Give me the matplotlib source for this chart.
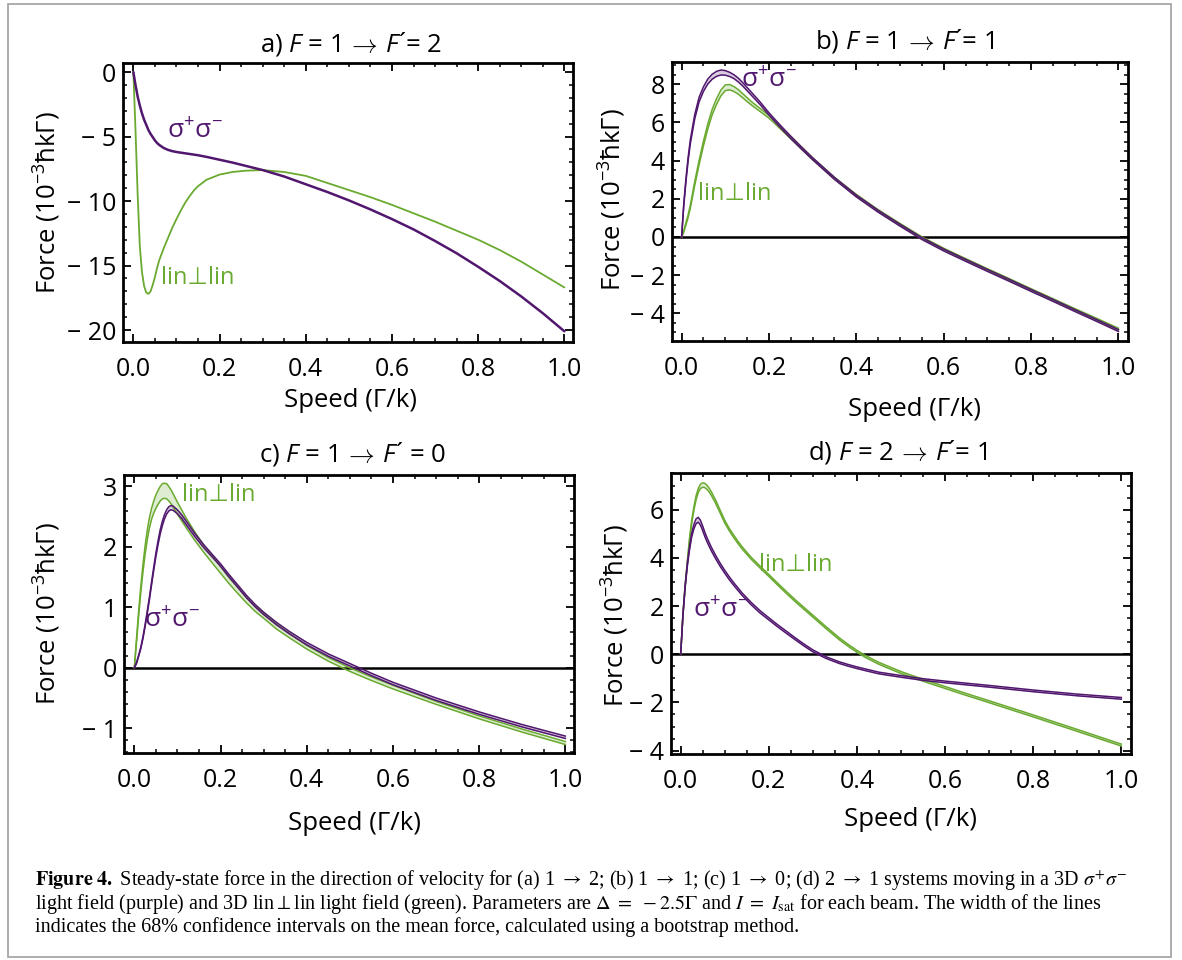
import matplotlib
matplotlib.use("Agg")
import matplotlib.pyplot as plt
import numpy as np
from matplotlib.ticker import MultipleLocator, FuncFormatter
from matplotlib.patches import Rectangle

plt.rcParams['font.family'] = ['Open Sans', 'DejaVu Sans']
plt.rcParams['mathtext.fontset'] = 'custom'
plt.rcParams['mathtext.rm'] = 'Open Sans'
plt.rcParams['mathtext.it'] = 'Open Sans:italic'
plt.rcParams['mathtext.bf'] = 'Open Sans:bold'

PURPLE = '#51176f'
GREEN = '#6aaa30'

# ---------------- data ----------------
titles = [r'a) $F$ = 1$\,\rightarrow\,F$´= 2',
          r'b) $F$ = 1$\,\rightarrow\,F$´= $\mathit{1}$',
          r'c) $F$ = 1$\,\rightarrow\,F$´ = 0',
          r'd) $F$ = 2$\,\rightarrow\,F$´= $\mathit{1}$']
x_ticks = [0.0, 0.2, 0.4, 0.6, 0.8, 1.0]

# panel a  (F=1 -> F'=2)
x_a = [0, 0.005, 0.01, 0.015, 0.02, 0.025, 0.03, 0.035, 0.04, 0.045, 0.05, 0.055, 0.06, 0.07,
       0.08, 0.09, 0.1, 0.11, 0.12, 0.13, 0.14, 0.15, 0.17, 0.2, 0.23, 0.26, 0.3, 0.35, 0.4,
       0.45, 0.5, 0.55, 0.6, 0.65, 0.7, 0.75, 0.8, 0.85, 0.9, 0.95, 1.0]
sig_a = [0, -1.0, -1.9, -2.6, -3.2, -3.7, -4.1, -4.5, -4.8, -5.05, -5.3, -5.5, -5.65, -5.88,
         -6.03, -6.13, -6.2, -6.25, -6.3, -6.35, -6.4, -6.45, -6.58, -6.8, -7.02, -7.27, -7.6, -8.1, -8.7,
         -9.3, -9.95, -10.65, -11.4, -12.2, -13.1, -14.05, -15.1, -16.2, -17.4, -18.7, -20.1]
lin_a = [0, -4.5, -9.5, -13.5, -15.5, -16.6, -17.1, -17.2, -17.0, -16.5, -15.9, -15.2, -14.6, -13.7,
         -12.9, -12.1, -11.4, -10.75, -10.15, -9.65, -9.2, -8.85, -8.35, -7.95, -7.75, -7.65, -7.6, -7.75, -8.05,
         -8.6, -9.15, -9.7, -10.3, -10.95, -11.6, -12.3, -13.0, -13.8, -14.7, -15.7, -16.7]

# panel b  (F=1 -> F'=1)
x_b = [0, 0.005, 0.01, 0.015, 0.02, 0.03, 0.04, 0.05, 0.06, 0.07, 0.08, 0.09, 0.1, 0.11, 0.12,
       0.13, 0.14, 0.16, 0.18, 0.2, 0.225, 0.25, 0.275, 0.3, 0.35, 0.4, 0.45, 0.5, 0.55, 0.6,
       0.65, 0.7, 0.75, 0.8, 0.85, 0.9, 0.95, 1.0]
sig_b = [0, 1.7, 3.0, 4.1, 5.0, 6.3, 7.2, 7.75, 8.15, 8.4, 8.55, 8.62, 8.6, 8.52, 8.4,
         8.22, 8.0, 7.5, 7.0, 6.45, 5.82, 5.22, 4.65, 4.1, 3.07, 2.15, 1.35, 0.62, -0.08, -0.68,
         -1.22, -1.75, -2.27, -2.8, -3.32, -3.85, -4.37, -4.9]
sig_b_hw = [0, 0.05, 0.08, 0.09, 0.1, 0.11, 0.12, 0.12, 0.13, 0.13, 0.13, 0.13, 0.12, 0.11, 0.1,
            0.1, 0.09, 0.08, 0.07, 0.06, 0.06, 0.06, 0.055, 0.05, 0.05, 0.05, 0.05, 0.05, 0.05, 0.05,
            0.05, 0.05, 0.05, 0.05, 0.05, 0.05, 0.05, 0.05]
lin_b = [0, 0.3, 0.7, 1.1, 1.6, 2.8, 3.9, 4.9, 5.8, 6.55, 7.1, 7.55, 7.82, 7.85, 7.75,
         7.6, 7.4, 7.0, 6.65, 6.3, 5.75, 5.2, 4.65, 4.1, 3.08, 2.18, 1.38, 0.66, -0.04, -0.64,
         -1.18, -1.71, -2.23, -2.76, -3.28, -3.8, -4.31, -4.83]
lin_b_hw = [0, 0.05, 0.06, 0.07, 0.08, 0.1, 0.11, 0.12, 0.13, 0.14, 0.15, 0.15, 0.15, 0.14, 0.13,
            0.12, 0.11, 0.09, 0.08, 0.07, 0.06, 0.06, 0.055, 0.05, 0.05, 0.05, 0.05, 0.05, 0.05, 0.05,
            0.05, 0.05, 0.05, 0.05, 0.05, 0.05, 0.05, 0.05]

# panel c  (F=1 -> F'=0)
x_c = [0, 0.005, 0.01, 0.015, 0.02, 0.025, 0.03, 0.035, 0.04, 0.045, 0.05, 0.055, 0.06, 0.065,
       0.07, 0.075, 0.08, 0.085, 0.09, 0.1, 0.11, 0.12, 0.13, 0.14, 0.15, 0.16, 0.18, 0.2, 0.22,
       0.24, 0.26, 0.28, 0.3, 0.33, 0.36, 0.4, 0.45, 0.5, 0.55, 0.6, 0.7, 0.8, 0.9, 1.0]
sig_c = [0, 0.08, 0.2, 0.33, 0.5, 0.7, 0.92, 1.15, 1.4, 1.64, 1.87, 2.07, 2.25, 2.39,
         2.5, 2.58, 2.63, 2.65, 2.64, 2.58, 2.5, 2.4, 2.3, 2.2, 2.11, 2.02, 1.86, 1.7, 1.52,
         1.35, 1.18, 1.03, 0.9, 0.73, 0.58, 0.4, 0.21, 0.05, -0.11, -0.26, -0.52, -0.75, -0.96, -1.15]
sig_c_hw = [0, 0.01, 0.01, 0.012, 0.015, 0.017, 0.02, 0.022, 0.025, 0.027, 0.03, 0.032, 0.035, 0.035,
            0.035, 0.035, 0.035, 0.035, 0.035, 0.032, 0.03, 0.03, 0.028, 0.026, 0.025, 0.025, 0.022, 0.02, 0.02,
            0.02, 0.02, 0.02, 0.02, 0.02, 0.02, 0.02, 0.02, 0.02, 0.02, 0.02, 0.02, 0.02, 0.02, 0.02]
lin_c = [0, 0.45, 0.9, 1.3, 1.65, 1.95, 2.2, 2.4, 2.55, 2.66, 2.75, 2.82, 2.88, 2.92,
         2.93, 2.92, 2.88, 2.83, 2.77, 2.64, 2.52, 2.4, 2.29, 2.18, 2.08, 1.98, 1.8, 1.62, 1.44,
         1.28, 1.12, 0.98, 0.86, 0.68, 0.53, 0.34, 0.14, -0.03, -0.18, -0.32, -0.58, -0.82, -1.04, -1.245]
lin_c_hw = [0, 0.03, 0.04, 0.05, 0.06, 0.07, 0.08, 0.085, 0.09, 0.1, 0.11, 0.115, 0.12, 0.125,
            0.125, 0.125, 0.12, 0.115, 0.11, 0.1, 0.09, 0.08, 0.075, 0.07, 0.065, 0.06, 0.06, 0.055, 0.05,
            0.05, 0.045, 0.045, 0.04, 0.04, 0.035, 0.03, 0.03, 0.03, 0.03, 0.03, 0.025, 0.025, 0.025, 0.025]

# panel d  (F=2 -> F'=1)
x_d = [0, 0.005, 0.01, 0.015, 0.02, 0.025, 0.03, 0.035, 0.04, 0.045, 0.05, 0.055, 0.06, 0.065,
       0.07, 0.08, 0.09, 0.1, 0.11, 0.12, 0.13, 0.14, 0.16, 0.18, 0.2, 0.22, 0.24, 0.26, 0.28,
       0.3, 0.33, 0.36, 0.38, 0.4, 0.42, 0.45, 0.5, 0.55, 0.6, 0.65, 0.7, 0.8, 0.9, 1.0]
sig_d = [0, 1.6, 2.8, 3.7, 4.4, 4.95, 5.3, 5.52, 5.58, 5.45, 5.22, 4.96, 4.74, 4.54,
         4.35, 4.01, 3.7, 3.42, 3.16, 2.92, 2.7, 2.48, 2.1, 1.76, 1.47, 1.18, 0.91, 0.64, 0.38,
         0.14, -0.14, -0.35, -0.46, -0.56, -0.65, -0.78, -0.92, -1.05, -1.15, -1.24, -1.33, -1.52, -1.69, -1.83]
sig_d_hw = [0, 0.03, 0.05, 0.06, 0.07, 0.08, 0.09, 0.1, 0.1, 0.1, 0.095, 0.09, 0.085, 0.08,
            0.075, 0.07, 0.065, 0.06, 0.06, 0.055, 0.055, 0.05, 0.05, 0.05, 0.045, 0.045, 0.045, 0.04, 0.04,
            0.04, 0.035, 0.035, 0.035, 0.035, 0.035, 0.035, 0.035, 0.035, 0.035, 0.035, 0.035, 0.035, 0.035, 0.035]
lin_d = [0, 1.6, 2.8, 3.8, 4.75, 5.5, 6.05, 6.5, 6.8, 6.97, 7.02, 7.0, 6.92, 6.8,
         6.65, 6.3, 5.9, 5.5, 5.18, 4.9, 4.64, 4.4, 3.98, 3.62, 3.27, 2.91, 2.56, 2.22, 1.9,
         1.58, 1.1, 0.64, 0.37, 0.12, -0.1, -0.38, -0.76, -1.08, -1.38, -1.68, -1.97, -2.56, -3.16, -3.77]
lin_d_hw = [0, 0.03, 0.04, 0.05, 0.06, 0.07, 0.07, 0.08, 0.08, 0.09, 0.09, 0.09, 0.085, 0.08,
            0.075, 0.065, 0.06, 0.055, 0.05, 0.05, 0.045, 0.045, 0.04, 0.04, 0.04, 0.04, 0.04, 0.04, 0.04,
            0.04, 0.04, 0.04, 0.04, 0.04, 0.04, 0.04, 0.04, 0.04, 0.04, 0.04, 0.04, 0.04, 0.04, 0.04]

caption_lines = [
    r'$\mathbf{Figure\ 4.}$ Steady-state force in the direction of velocity for (a) 1 $\rightarrow$ 2; (b) 1 $\rightarrow$ 1; (c) 1 $\rightarrow$ 0; (d) 2 $\rightarrow$ 1 systems moving in a 3D $\sigma^{+}\sigma^{-}$',
    r'light field (purple) and 3D lin$\perp$lin light field (green). Parameters are $\Delta\ =\ -2.5\Gamma$ and $I\ =\ I_{\mathrm{sat}}$ for each beam. The width of the lines',
    'indicates the 68% confidence intervals on the mean force, calculated using a bootstrap method.',
]

# ---------------- layout ----------------
W, H = 1182, 960
fig = plt.figure(figsize=(W / 100, H / 100), dpi=100)


def px_axes(l, t, r, b):
    return fig.add_axes([l / W, 1 - b / H, (r - l) / W, (b - t) / H])


panels = [
    dict(box=(123, 63, 573, 342), ylim=(-20.93, 0.70), yt=[-20, -15, -10, -5, 0], ymin=1.0,
         xlim=(-0.024, 1.02), zero=False, title_xy=(351, 44), xl=(351, 400), yl=(47, 203),
         sig=(x_a, sig_a, None), lin=(x_a, lin_a, None),
         sig_txt=(0.142, -4.65), lin_txt=(0.15, -16.0)),
    dict(box=(672, 62, 1128, 341), ylim=(-5.45, 9.17), yt=[-4, -2, 0, 2, 4, 6, 8], ymin=0.5,
         xlim=(-0.022, 1.022), zero=True, title_xy=(905, 41), xl=(915, 410), yl=(612, 200),
         sig=(x_b, sig_b, sig_b_hw), lin=(x_b, lin_b, lin_b_hw),
         sig_txt=(0.2, 8.2), lin_txt=(0.122, 2.25)),
    dict(box=(124, 475, 574, 753), ylim=(-1.41, 3.19), yt=[-1, 0, 1, 2, 3], ymin=0.2,
         xlim=(-0.024, 1.02), zero=True, title_xy=(352, 454), xl=(354, 823), yl=(47, 614),
         sig=(x_c, sig_c, sig_c_hw), lin=(x_c, lin_c, lin_c_hw),
         sig_txt=(0.087, 0.78), lin_txt=(0.196, 2.86)),
    dict(box=(671, 473, 1131, 754), ylim=(-4.14, 7.52), yt=[-4, -2, 0, 2, 4, 6], ymin=0.5,
         xlim=(-0.022, 1.022), zero=True, title_xy=(898, 452), xl=(910, 820), yl=(615, 616),
         sig=(x_d, sig_d, sig_d_hw), lin=(x_d, lin_d, lin_d_hw),
         sig_txt=(0.09, 1.82), lin_txt=(0.26, 3.69)),
]

TICK_FS = 18
LAB_FS = 18.5
TITLE_FS = 18.5


def ytick_fmt(v, pos):
    if abs(v) < 1e-9:
        return '0'
    if v < 0:
        return '\u2212 %g' % abs(v)
    return '%g' % v


def draw_series(ax, xs, ys, hw, color, lw_single):
    xs = np.asarray(xs)
    ys = np.asarray(ys)
    if hw is None:
        ax.plot(xs, ys, color=color, lw=lw_single, solid_capstyle='round', zorder=3)
    else:
        hw = np.asarray(hw)
        ax.fill_between(xs, ys - hw, ys + hw, color=color, alpha=0.22, lw=0, zorder=2)
        ax.plot(xs, ys - hw, color=color, lw=1.1, zorder=3)
        ax.plot(xs, ys + hw, color=color, lw=1.1, zorder=3)


for i, p in enumerate(panels):
    ax = px_axes(*p['box'])
    ax.set_xlim(*p['xlim'])
    ax.set_ylim(*p['ylim'])
    if p['zero']:
        ax.axhline(0, color='black', lw=1.8, zorder=1)
    draw_series(ax, *p['lin'], GREEN, 1.3)
    draw_series(ax, *p['sig'], PURPLE, 1.8)

    ax.set_xticks(x_ticks)
    ax.xaxis.set_major_formatter(FuncFormatter(lambda v, pos: '%.1f' % v))
    ax.xaxis.set_minor_locator(MultipleLocator(0.05))
    ax.set_yticks(p['yt'])
    ax.yaxis.set_major_formatter(FuncFormatter(ytick_fmt))
    ax.yaxis.set_minor_locator(MultipleLocator(p['ymin']))
    ax.tick_params(which='both', direction='in', top=True, right=True, labelsize=TICK_FS)
    ax.tick_params(which='major', length=5.5, width=1.3)
    ax.tick_params(which='minor', length=3, width=1.1)
    ax.tick_params(axis='x', pad=11)
    ax.tick_params(axis='y', pad=5)
    for s in ax.spines.values():
        s.set_linewidth(2.0)

    ax.text(*p['sig_txt'], r'$\mathrm{\sigma^{+}\sigma^{-}}$', color=PURPLE, fontsize=19,
            ha='center', va='center')
    ax.text(*p['lin_txt'], 'lin⊥lin', color=GREEN, fontsize=17, ha='center', va='center')

    tx, ty = p['title_xy']
    fig.text(tx / W, 1 - ty / H, titles[i], fontsize=TITLE_FS, ha='center', va='center')
    lx, ly = p['xl']
    fig.text(lx / W, 1 - ly / H, 'Speed (Γ/k)', fontsize=LAB_FS, ha='center', va='center')
    yx, yy = p['yl']
    fig.text(yx / W, 1 - yy / H, r'Force (10$^{-3}$ħkΓ)', fontsize=LAB_FS, ha='center',
             va='center', rotation=90)

# caption
cap_y = [886, 909, 932]
for k, line in enumerate(caption_lines):
    fig.text(35 / W, 1 - cap_y[k] / H, line, fontsize=14.5, family='Liberation Serif',
             math_fontfamily='stix', ha='left', va='baseline')

# border
fig.patches.append(Rectangle((8 / W, 1 - 957 / H), (1171 - 8) / W, (957 - 4) / H,
                             transform=fig.transFigure, fill=False, edgecolor='#a0a0a0', lw=1.2))

fig.savefig('out.png', dpi=100, facecolor='white')
